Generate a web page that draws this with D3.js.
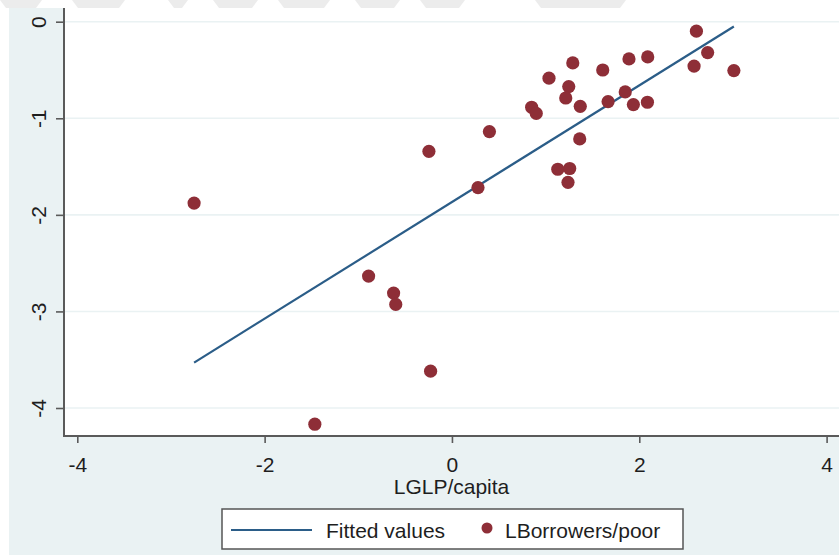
<!DOCTYPE html>
<html lang="en">
<meta charset="utf-8">
<style>
  body { margin: 0; background: #fff; }
  text { font-family: "Liberation Sans", Arial, sans-serif; fill: #1e1e1e; }
</style>
<body>
<svg width="839" height="555"></svg>
<script src="https://d3js.org/d3.v7.min.js"></script>
<script>
  // LGLP/capita (x) and LBorrowers/poor (y)
  let pointX = [2.61, 2.73, 2.585, 3.01, 2.09, 1.89, 1.29, 1.61, 1.036, 1.247, 1.215, 1.85,
                1.667, 1.937, 2.087, 1.37, 0.851, 0.90, 0.40, 1.364, -0.246, 1.13, 1.257,
                1.239, 0.278, -2.753, -0.89, -0.623, -0.60, -0.228, -1.464]
  let pointY = [-0.098, -0.32, -0.46, -0.506, -0.365, -0.385, -0.427, -0.50, -0.585, -0.672,
                -0.79, -0.727, -0.827, -0.858, -0.834, -0.876, -0.886, -0.95, -1.138, -1.214,
                -1.342, -1.528, -1.52, -1.663, -1.718, -1.878, -2.634, -2.81, -2.927, -3.619, -4.168]
  // fitted values line, ends of the line
  let fitX = [-2.753, 3.01]
  let fitY = [-3.53, -0.05]

  let xTicks = [-4, -2, 0, 2, 4]
  let yTicks = [0, -1, -2, -3, -4]
  let legendNames = ['Fitted values', 'LBorrowers/poor']

  let svg = d3.select('svg')
  let navy = '#2b5d88'
  let maroon = '#8e2e37'

  // watermark band on top
  let marks = [[0, 42], [72, 125], [168, 188], [213, 258], [278, 330], [355, 400], [420, 465], [535, 626]]
  svg.append('g').selectAll('path')
     .data(marks).enter()
     .append('path')
     .attr('d', d => `M${d[0]},0 L${d[1]},0 L${d[1] - 6},8 L${d[0] + 6},8 Z`)
     .attr('fill', '#ececec')

  // graph region + plot region
  svg.append('rect').attr('x', 9).attr('y', 8).attr('width', 830).attr('height', 547).attr('fill', '#eaf2f3')
  svg.append('rect').attr('x', 64).attr('y', 8).attr('width', 775).attr('height', 428).attr('fill', '#fff')

  let x = d3.scaleLinear().domain([-4, 4]).range([77.3, 826.6])
  let y = d3.scaleLinear().domain([-4, 0]).range([408, 21.7])

  // grid
  svg.append('g').selectAll('line')
     .data(yTicks).enter()
     .append('line')
     .attr('x1', 64).attr('x2', 839)
     .attr('y1', d => y(d)).attr('y2', d => y(d))
     .attr('stroke', '#eaf2f3').attr('stroke-width', 1.6)

  // axes
  let xAxis = svg.append('g')
                 .attr('transform', 'translate(0,436)')
                 .call(d3.axisBottom(x).tickValues(xTicks).tickSize(7).tickPadding(6).tickFormat(d3.format('d')))
  xAxis.select('.domain').attr('d', 'M63,0H839').attr('stroke', '#5a5a5a').attr('stroke-width', 2)
  xAxis.selectAll('.tick line').attr('stroke', '#5a5a5a').attr('stroke-width', 1.6)
  xAxis.selectAll('.tick text')
       .attr('font-size', 21).attr('font-family', 'Liberation Sans, Arial, sans-serif')
       .attr('fill', '#1e1e1e').attr('dy', null).attr('y', 36)
       .text(d => d < 0 ? '-' + Math.abs(d) : d)

  let yAxis = svg.append('g')
                 .attr('transform', 'translate(64,0)')
                 .call(d3.axisLeft(y).tickValues(yTicks).tickSize(8).tickFormat(d3.format('d')))
  yAxis.select('.domain').attr('d', 'M0,8V437').attr('stroke', '#5a5a5a').attr('stroke-width', 2)
  yAxis.selectAll('.tick line').attr('stroke', '#5a5a5a').attr('stroke-width', 1.6)
  yAxis.selectAll('.tick text')
       .attr('font-size', 21).attr('font-family', 'Liberation Sans, Arial, sans-serif')
       .attr('fill', '#1e1e1e')
       .attr('x', null).attr('dy', null)
       .attr('text-anchor', 'middle')
       .attr('transform', 'translate(-18,0) rotate(-90)')
       .text(d => d < 0 ? '-' + Math.abs(d) : d)

  // fitted line
  let line = d3.line().x(d => x(d[0])).y(d => y(d[1]))
  svg.append('path')
     .attr('d', line(d3.zip(fitX, fitY)))
     .attr('fill', 'none').attr('stroke', navy).attr('stroke-width', 2.2)

  // points
  svg.append('g').selectAll('circle')
     .data(d3.zip(pointX, pointY)).enter()
     .append('circle')
     .attr('cx', d => x(d[0])).attr('cy', d => y(d[1]))
     .attr('r', 6.6).attr('fill', maroon)

  // x title
  svg.append('text').attr('x', 451.5).attr('y', 494)
     .attr('text-anchor', 'middle').attr('font-size', 21).text('LGLP/capita')

  // legend
  let lg = svg.append('g')
  lg.append('rect').attr('x', 222).attr('y', 509).attr('width', 461).attr('height', 40)
    .attr('fill', '#fff').attr('stroke', '#555').attr('stroke-width', 1.5)
  lg.append('line').attr('x1', 231).attr('x2', 312).attr('y1', 530).attr('y2', 530)
    .attr('stroke', navy).attr('stroke-width', 2)
  lg.append('text').attr('x', 326).attr('y', 537.5).attr('font-size', 21).text(legendNames[0])
  lg.append('circle').attr('cx', 487).attr('cy', 528).attr('r', 5.5).attr('fill', maroon)
  lg.append('text').attr('x', 505).attr('y', 537.5).attr('font-size', 21).text(legendNames[1])
</script>
</body>
</html>
